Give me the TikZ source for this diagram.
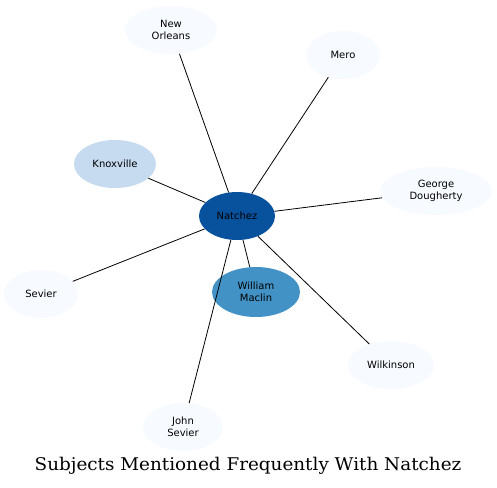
\documentclass[tikz,border=0pt]{standalone}
\usepackage{fontspec}
\newfontfamily\nodefont{DejaVu Sans}
\newfontfamily\titlefont{DejaVu Serif}
\usetikzlibrary{shapes.geometric}
\definecolor{c0}{HTML}{08519C}
\definecolor{c1}{HTML}{4292C6}
\definecolor{c2}{HTML}{C6DBEF}
\definecolor{c3}{HTML}{F7FBFF}
\begin{document}
\begin{tikzpicture}[x=1pt,y=-1pt,
  ent/.style={ellipse,inner sep=0pt,align=center,font=\nodefont\fontsize{10}{12}\selectfont,text=black},
  link/.style={draw=black,line width=0.8pt}]
\useasboundingbox[fill=white] (0,0) rectangle (497,487);
\node[ent,fill=c0,minimum width=76pt,minimum height=48pt] (nat) at (237,216) {Natchez};
\node[ent,fill=c1,minimum width=88pt,minimum height=50pt] (wm) at (256,292) {William\\Maclin};
\node[ent,fill=c2,minimum width=82pt,minimum height=48pt] (kn) at (115,164) {Knoxville};
\node[ent,fill=c3,minimum width=92pt,minimum height=48pt] (no) at (171,30) {New\\Orleans};
\node[ent,fill=c3,minimum width=74pt,minimum height=48pt] (me) at (343,55) {Mero};
\node[ent,fill=c3,minimum width=112pt,minimum height=48pt] (gd) at (436,191) {George\\Dougherty};
\node[ent,fill=c3,minimum width=74pt,minimum height=48pt] (se) at (41,294) {Sevier};
\node[ent,fill=c3,minimum width=86pt,minimum height=48pt] (wi) at (391,365) {Wilkinson};
\node[ent,fill=c3,minimum width=80pt,minimum height=48pt] (js) at (183,427) {John\\Sevier};
\draw[link] (nat) -- (wm);
\draw[link] (nat) -- (kn);
\draw[link] (nat) -- (no);
\draw[link] (nat) -- (me);
\draw[link] (nat) -- (gd);
\draw[link] (nat) -- (se);
\draw[link] (nat) -- (wi);
\draw[link] (nat) -- (js);
\node[font=\titlefont\fontsize{17.5}{20}\selectfont,xscale=1.05,transform shape] (title) at (248,466) {Subjects Mentioned Frequently With Natchez};
\end{tikzpicture}
\end{document}
